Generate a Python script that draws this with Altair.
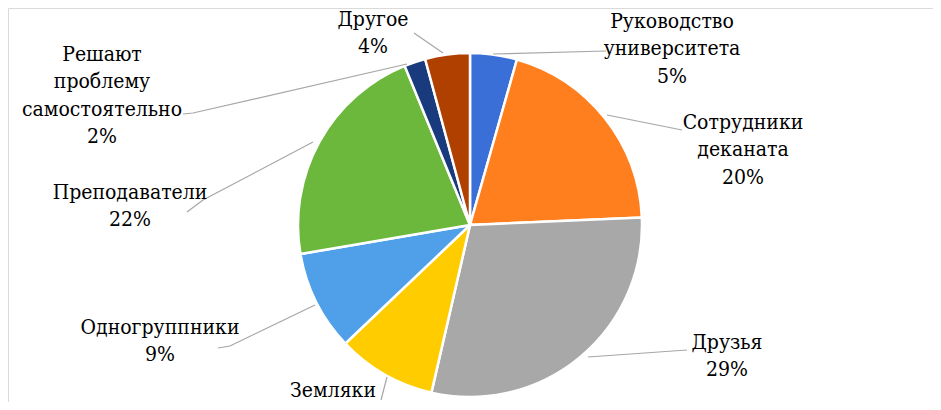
import altair as alt
import pandas as pd

categories = ["Руководство университета", "Сотрудники деканата", "Друзья", "Земляки",
              "Одногруппники", "Преподаватели", "Решают проблему самостоятельно", "Другое"]
values = [4.4, 19.9, 29.3, 9.3, 9.4, 21.5, 2.0, 4.2]
colors = ["#3A6FD8", "#FF7F1E", "#A8A8A8", "#FFCC00", "#4FA0E8", "#6CB83C", "#1A3A7E", "#B04000"]
label_texts = ["Руководство\nуниверситета\n5%", "Сотрудники\nдеканата\n20%", "Друзья\n29%",
               "Земляки", "Одногруппники\n9%", "Преподаватели\n22%",
               "Решают\nпроблему\nсамостоятельно\n2%", "Другое\n4%"]

# label block anchors (first line centre), chart pixel coords
label_x = [664, 735, 719, 325, 152, 122, 94, 365]
label_y = [14, 115, 335, 383, 320, 185, 47, 12]
LINE_H = 27.3
# leader lines
leaders = [
    [(485, 46), (598, 43)],
    [(599, 107), (674, 122)],
    [(580, 349), (679, 342)],
    [(379, 369), (373, 392)],
    [(307, 297), (222, 338), (210, 340)],
    [(305, 134), (195, 192), (179, 204)],
    [(399, 56), (185, 105), (175, 106)],
    [(435, 45), (406, 25)],
]

W, H = 925, 394
CX, CY, R = 462, 217, 172

pie_df = pd.DataFrame({"cat": categories, "val": values, "idx": list(range(len(values)))})

rows = []
for i, t in enumerate(label_texts):
    for j, line in enumerate(t.split("\n")):
        rows.append({"x": label_x[i], "y": label_y[i] + j * LINE_H, "t": line})
text_df = pd.DataFrame(rows)

lrows = []
for i, pts in enumerate(leaders):
    for k, (x, y) in enumerate(pts):
        lrows.append({"g": i, "k": k, "x": x, "y": y})
line_df = pd.DataFrame(lrows)

xs = alt.Scale(domain=[0, W], range=[0, W])
ys = alt.Scale(domain=[0, H], range=[0, H])

pie = alt.Chart(pie_df).mark_arc(outerRadius=R, stroke="white", strokeWidth=2.5).encode(
    theta=alt.Theta("val:Q", stack=True),
    color=alt.Color("cat:N", scale=alt.Scale(domain=categories, range=colors), legend=None),
    order=alt.Order("idx:Q"),
    x=alt.value(CX),
    y=alt.value(CY),
)

lines = alt.Chart(line_df).mark_line(color="#A6A6A6", strokeWidth=1.2).encode(
    x=alt.X("x:Q", scale=xs, axis=None),
    y=alt.Y("y:Q", scale=ys, axis=None),
    detail="g:N",
    order="k:Q",
)

texts = alt.Chart(text_df).mark_text(
    font="DejaVu Serif Condensed", fontSize=21,
    color="black", align="center", baseline="middle"
).encode(
    x=alt.X("x:Q", scale=xs, axis=None),
    y=alt.Y("y:Q", scale=ys, axis=None),
    text="t:N",
)

chart = alt.layer(pie, lines, texts).properties(
    width=W, height=H, autosize=alt.AutoSizeParams(type="none"), padding=0
).configure_view(stroke="#DADADA", strokeWidth=1)

chart.save("out.html", embed_options={"renderer": "svg", "actions": False})
